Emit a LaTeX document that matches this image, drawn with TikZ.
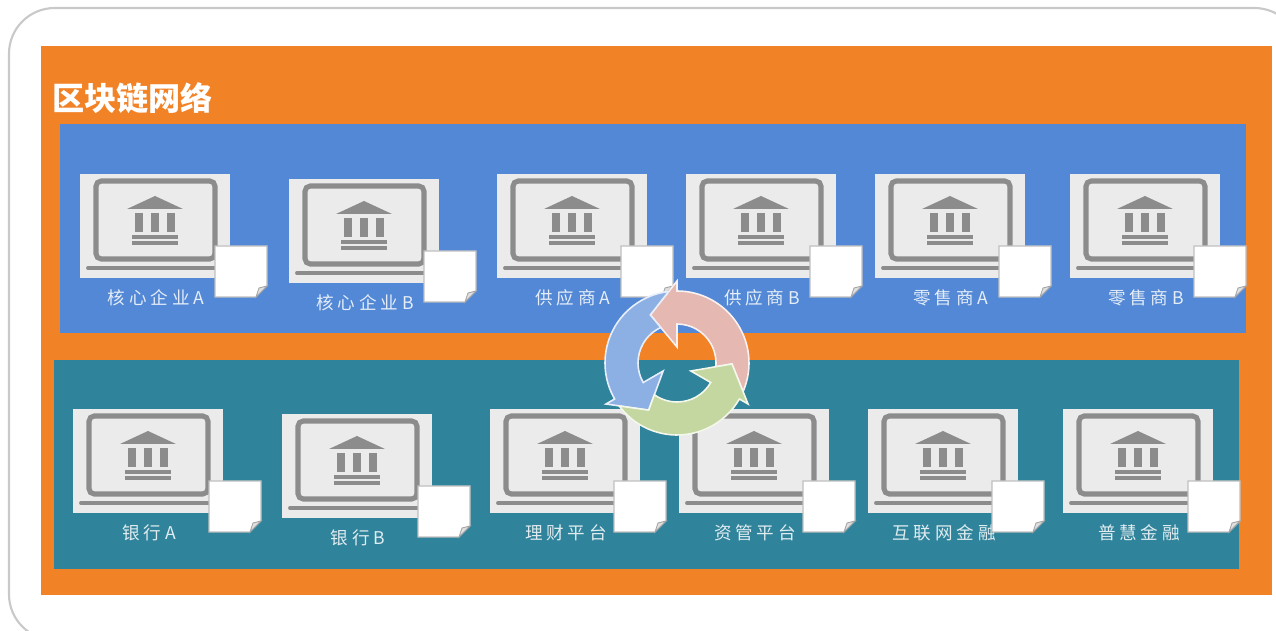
\documentclass[tikz,border=0pt]{standalone}
\usepackage{fontspec}
\setmainfont{Noto Sans CJK SC}
\newfontfamily\labelfont[LetterSpace=22]{Noto Sans CJK SC}

\definecolor{frameGray}{HTML}{C9C9C9}
\definecolor{netOrange}{HTML}{F28226}
\definecolor{rowBlue}{HTML}{5288D5}
\definecolor{rowTeal}{HTML}{2F839B}
\definecolor{boxGray}{HTML}{EBEBEB}
\definecolor{iconGray}{HTML}{8C8C8C}
\definecolor{cycPink}{HTML}{E6B8B2}
\definecolor{cycBlue}{HTML}{8DB0E4}
\definecolor{cycGreen}{HTML}{C4D7A0}

\tikzset{
    pics/bank/.style 2 args = {code = {
        \fill[boxGray] (0,0) rectangle (150,104);
        \draw[iconGray, line width=2.9pt, rounded corners=3pt] (16,7) rectangle (135,85);
        \draw[iconGray, line width=2.2pt, line cap=round] (8,94) -- (142,94);
        \fill[iconGray] (47,35) -- (75,22) -- (103,35) -- cycle;
        \fill[iconGray] (55,39) rectangle (63,58);
        \fill[iconGray] (71,39) rectangle (79,58);
        \fill[iconGray] (87,39) rectangle (95,58);
        \fill[iconGray] (52,61) rectangle (98,65);
        \fill[iconGray] (52,67.5) rectangle (98,71);
        \node[text=white, opacity=.85, font=\labelfont\fontsize{10pt}{12pt}\selectfont] (-label) at (76,124) {#1};
        \draw[shift={(#2,72)}, fill=white, draw=black!25, line width=.6pt] (0,0) -- (52,0) -- (52,40) -- (41,51) -- (0,51) -- cycle;
        \draw[shift={(#2,72)}, fill=black!12, draw=black!35, line width=.5pt] (52,40) -- (44,42) -- (41,51) -- cycle;
    }},
    cycarrow/.pic = {
        \draw[fill=#1, draw=white!80!#1, line width=.9pt]
            (-113.4:72) arc[start angle=-113.4, end angle=0, radius=72]
            -- (0:82) -- (29:55) -- (0:16) -- (0:39)
            arc[start angle=0, end angle=-95.5, radius=39]
            -- (-91:55) -- cycle;
    }
}

\begin{document}
\begin{tikzpicture}[x=0.02cm, y=-0.02cm]
    \useasboundingbox (0,0) rectangle (1276,631);
    \fill[white] (0,0) rectangle (1276,631);

    \draw[frameGray, line width=1.2pt, rounded corners=26pt] (9,8) rectangle (1300,640);

    \fill[netOrange] (41,46) rectangle (1272,595);
    \node[text=white, font=\bfseries\fontsize{18.3pt}{20pt}\selectfont, anchor=west, inner sep=0pt] (netTitle) at (52,98) {区块链网络};

    \fill[rowBlue] (60,124) rectangle (1246,333);
    \fill[rowTeal] (54,360) rectangle (1239,569);

    \pic (coreA) at (80,174) {bank={核心企业A}{135}};
    \pic (coreB) at (289,179) {bank={核心企业B}{135}};
    \pic (suppA) at (497,174) {bank={供应商A}{124}};
    \pic (suppB) at (686,174) {bank={供应商B}{124}};
    \pic (retailA) at (875,174) {bank={零售商A}{124}};
    \pic (retailB) at (1070,174) {bank={零售商B}{124}};

    \pic (bankA) at (73,409) {bank={银行A}{136}};
    \pic (bankB) at (282,414) {bank={银行B}{136}};
    \pic (wealth) at (490,409) {bank={理财平台}{124}};
    \pic (asset) at (679,409) {bank={资管平台}{124}};
    \pic (online) at (868,409) {bank={互联网金融}{124}};
    \pic (inclusive) at (1063,409) {bank={普慧金融}{125}};

    \pic[rotate=90, yscale=-1] at (677,363) {cycarrow=cycPink};
    \pic[rotate=210, yscale=-1] at (677,363) {cycarrow=cycBlue};
    \pic[rotate=330, yscale=-1] at (677,363) {cycarrow=cycGreen};
\end{tikzpicture}
\end{document}
